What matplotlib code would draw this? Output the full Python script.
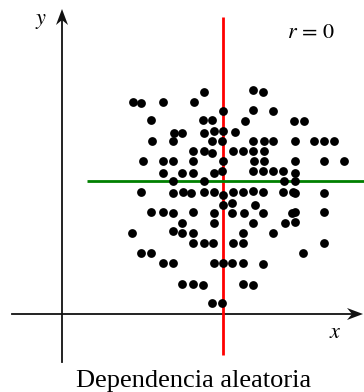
import numpy as np
import matplotlib
matplotlib.use('Agg')
import matplotlib.pyplot as plt

plt.rcParams['mathtext.fontset'] = 'stix'
plt.rcParams['font.family'] = ['Liberation Serif', 'DejaVu Serif']

# scatter points (x, y)
pts = [
    (19.1, 22.4), (20.1, 22.2), (14.2, 22.2),
    (7.1, 21.2), (7.9, 21.1), (10.1, 21.2), (13.2, 21.2),
    (16.1, 20.3), (19.1, 20.4), (21.1, 20.3),
    (8.9, 19.4), (14.1, 19.4), (15.0, 19.4), (18.3, 19.3), (23.2, 19.3), (24.2, 19.3),
    (11.2, 18.1), (12.0, 18.1), (14.2, 18.1), (15.2, 18.3), (16.1, 18.3), (17.3, 18.2),
    (9.0, 17.3), (11.1, 17.3), (15.0, 17.3), (16.0, 17.3), (19.1, 17.3), (20.2, 17.3),
    (21.1, 17.3), (23.3, 17.3), (25.2, 17.3), (26.2, 17.3), (27.2, 17.3),
    (13.1, 16.3), (14.2, 16.3), (15.0, 16.1), (17.1, 16.3), (18.1, 16.3), (19.1, 16.3), (20.2, 16.3),
    (8.1, 15.3), (10.1, 15.3), (11.1, 15.3), (13.1, 15.3), (16.1, 15.3), (19.2, 15.3),
    (20.2, 15.3), (23.3, 15.3), (26.2, 15.3), (28.2, 15.3),
    (10.1, 14.1), (12.0, 14.1), (13.1, 14.1), (15.2, 14.1), (16.0, 14.3), (19.1, 14.3),
    (20.1, 14.3), (21.1, 14.3), (22.1, 14.3), (23.3, 14.1),
    (11.1, 13.3), (14.2, 13.3), (22.2, 13.3), (23.3, 13.3),
    (7.9, 12.2), (11.1, 12.1), (12.1, 12.2), (12.9, 12.1), (14.2, 12.2), (15.2, 12.2),
    (16.1, 11.9), (17.1, 12.2), (18.1, 12.2), (19.1, 12.3), (20.1, 12.2), (22.1, 12.2),
    (23.1, 12.2), (23.3, 12.1), (26.2, 12.1),
    (16.1, 10.9), (17.0, 11.1), (19.3, 10.9),
    (8.9, 10.2), (10.1, 10.2), (11.1, 10.1), (13.1, 10.2), (15.2, 10.1), (17.0, 10.1),
    (18.2, 10.1), (20.1, 10.1), (23.0, 10.1), (23.3, 10.2), (26.2, 10.2),
    (12.0, 9.1), (15.2, 9.1), (19.1, 9.1), (22.3, 9.1), (23.3, 9.2),
    (7.0, 8.1), (11.1, 8.3), (12.0, 8.1), (13.1, 8.1), (18.1, 8.1), (21.1, 8.1),
    (13.1, 7.1), (14.2, 7.1), (15.1, 7.1), (17.1, 7.1), (18.1, 7.1), (26.2, 7.1),
    (7.9, 6.1), (8.9, 6.1), (24.1, 6.1),
    (10.1, 5.1), (11.1, 5.1), (15.2, 5.1), (16.1, 5.1), (17.0, 5.1), (18.1, 5.1), (20.1, 5.0),
    (12.0, 3.0), (13.1, 3.0), (14.1, 2.9), (18.1, 3.0), (19.1, 2.9),
    (15.0, 1.1), (16.0, 1.1),
]
xs = [p[0] for p in pts]
ys = [p[1] for p in pts]

mean_x = 16.07
mean_y = 13.25

fig = plt.figure(figsize=(3.64, 3.92), dpi=100)
ax = fig.add_axes([0, 0, 1, 1])
ax.set_xlim(-6.2, 30.2)
ax.set_ylim(-7.8, 31.4)
ax.axis('off')

axis_col = '#111111'
# axis lines
ax.plot([0, 0], [-4.8, 29.5], color=axis_col, lw=1.3)
ax.plot([-5.0, 29.5], [0, 0], color=axis_col, lw=1.3)

# barbed arrow heads (length 1.6, half width 0.6, notch 0.5)
def head(tip_x, tip_y, dx, dy):
    L, W, N = 1.6, 0.6, 0.5
    px, py = -dy, dx
    bx, by = tip_x - dx * L, tip_y - dy * L
    verts = [(tip_x, tip_y),
             (bx + px * W, by + py * W),
             (tip_x - dx * (L - N), tip_y - dy * (L - N)),
             (bx - px * W, by - py * W)]
    ax.fill([v[0] for v in verts], [v[1] for v in verts], color=axis_col, lw=0)

head(0, 30.5, 0, 1)
head(30.1, 0, 1, 0)

# mean lines
ax.plot([mean_x, mean_x], [-4.1, 29.7], color='#ff0000', lw=2.0, solid_capstyle='butt')
ax.plot([2.5, 30.2], [mean_y, mean_y], color='#008000', lw=2.0, solid_capstyle='butt')

ax.scatter(xs, ys, s=40, color='black', zorder=3, linewidths=0)

ax.text(-2.1, 29.2, r'$y$', fontsize=16, ha='center', va='center')
ax.text(27.3, -1.9, r'$x$', fontsize=16, ha='center', va='center')
ax.text(24.9, 28.0, r'$r\,=\,0$', fontsize=16, ha='center', va='center')
ax.text(13.2, -6.7, 'Dependencia aleatoria', fontsize=19, ha='center', va='center')

fig.savefig('out.png', dpi=100)
